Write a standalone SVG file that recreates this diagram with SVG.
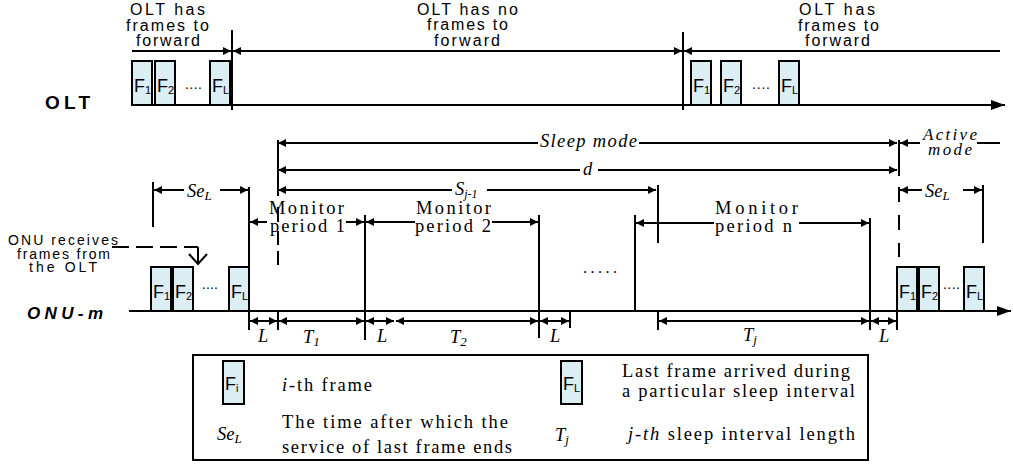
<svg xmlns="http://www.w3.org/2000/svg" width="1013" height="467" viewBox="0 0 1013 467">
<style>
.sans{font-family:"Liberation Sans",Arial,sans-serif;fill:#000}
.serif{font-family:"Liberation Serif","Times New Roman",serif;fill:#000}
.it{font-style:italic}
.ln{stroke:#000;stroke-width:2;fill:none}
.fr{fill:#dbeef4;stroke:#000;stroke-width:2}
.fl{font-family:"Liberation Sans",Arial,sans-serif;font-size:18px;fill:#000}
.fs{font-size:11px}
.top{font-size:16px}
.lab{font-size:18.5px}
</style>
<defs>
<marker id="a" viewBox="0 0 8 8" refX="8" refY="4" markerWidth="8" markerHeight="8" markerUnits="userSpaceOnUse" orient="auto-start-reverse"><path d="M0,0L8,4L0,8z" fill="#000"/></marker>
<marker id="b" viewBox="0 0 14 10" refX="14" refY="5" markerWidth="14" markerHeight="10" markerUnits="userSpaceOnUse" orient="auto"><path d="M0,0L14,5L0,10z" fill="#000"/></marker>
</defs>
<rect width="1013" height="467" fill="#fff"/>

<g id="olt-texts">
<text class="sans top" x="130" y="15" textLength="75">OLT has</text>
<text class="sans top" x="126" y="30.5" textLength="83">frames to</text>
<text class="sans top" x="136" y="46" textLength="64">forward</text>
<text class="sans top" x="417" y="14.5" textLength="101">OLT has no</text>
<text class="sans top" x="427" y="30" textLength="81">frames to</text>
<text class="sans top" x="434" y="46" textLength="66">forward</text>
<text class="sans top" x="799" y="15" textLength="76">OLT has</text>
<text class="sans top" x="798" y="30.5" textLength="81">frames to</text>
<text class="sans top" x="805" y="46" textLength="65">forward</text>
<text class="sans" x="45" y="109" font-size="19" font-weight="bold" textLength="45">OLT</text>
</g>

<g id="olt-frames">
<rect class="fr" x="132" y="61" width="20" height="44"/><text class="fl" x="134" y="92">F<tspan class="fs" dy="2">1</tspan></text>
<rect class="fr" x="155" y="61" width="20" height="44"/><text class="fl" x="157" y="92">F<tspan class="fs" dy="2">2</tspan></text>
<text class="sans" x="185" y="89" font-size="14" textLength="17">....</text>
<rect class="fr" x="210" y="61" width="20" height="44"/><text class="fl" x="212" y="92">F<tspan class="fs" dy="2">L</tspan></text>
<rect class="fr" x="691" y="61" width="20" height="44"/><text class="fl" x="693" y="92">F<tspan class="fs" dy="2">1</tspan></text>
<rect class="fr" x="721" y="61" width="20" height="44"/><text class="fl" x="723" y="92">F<tspan class="fs" dy="2">2</tspan></text>
<text class="sans" x="752" y="89" font-size="14" textLength="18">....</text>
<rect class="fr" x="779" y="61" width="20" height="44"/><text class="fl" x="781" y="92">F<tspan class="fs" dy="2">L</tspan></text>
</g>

<g id="onu-texts">
<text class="sans" x="8" y="245" font-size="14" textLength="110">ONU receives</text>
<text class="sans" x="17" y="258.5" font-size="14" textLength="93">frames from</text>
<text class="sans" x="29" y="272" font-size="14" textLength="68">the OLT</text>
<text class="sans" x="27" y="319" font-size="17" font-weight="bold" font-style="italic" textLength="76">ONU-m</text>
<text class="serif it lab" x="540" y="147" textLength="97">Sleep mode</text>
<text class="serif it" x="923" y="140" font-size="17" textLength="54">Active</text>
<text class="serif it" x="928" y="155" font-size="17" textLength="44">mode</text>
<text class="serif it lab" x="583" y="175">d</text>
<text class="serif it lab" x="455" y="195">S<tspan font-size="12" dy="3">j-1</tspan></text>
<text class="serif it lab" x="187" y="197">Se<tspan font-size="13" dy="3">L</tspan></text>
<text class="serif it lab" x="925" y="197">Se<tspan font-size="13" dy="3">L</tspan></text>
<text class="serif lab" x="269" y="214" textLength="75">Monitor</text>
<text class="serif lab" x="270" y="232" textLength="75">period 1</text>
<text class="serif lab" x="416" y="214" textLength="75">Monitor</text>
<text class="serif lab" x="415" y="232" textLength="76">period 2</text>
<text class="serif lab" x="715" y="214" textLength="83">Monitor</text>
<text class="serif lab" x="715" y="232" textLength="77">period n</text>
<text class="serif" x="583" y="273" font-size="16" textLength="34">.....</text>
<text class="serif it lab" x="258" y="342">L</text>
<text class="serif it lab" x="303" y="343">T<tspan font-size="13" dy="3">1</tspan></text>
<text class="serif it lab" x="377" y="342">L</text>
<text class="serif it lab" x="450" y="343">T<tspan font-size="13" dy="3">2</tspan></text>
<text class="serif it lab" x="550" y="342">L</text>
<text class="serif it lab" x="743" y="341">T<tspan font-size="13" dy="3">j</tspan></text>
<text class="serif it lab" x="879" y="342">L</text>
</g>

<g id="onu-frames">
<rect class="fr" x="151" y="267" width="20" height="44"/><text class="fl" x="153" y="298">F<tspan class="fs" dy="2">1</tspan></text>
<rect class="fr" x="173" y="267" width="20" height="44"/><text class="fl" x="175" y="298">F<tspan class="fs" dy="2">2</tspan></text>
<text class="sans" x="202" y="289" font-size="14" textLength="16">....</text>
<rect class="fr" x="229" y="267" width="20" height="44"/><text class="fl" x="231" y="298">F<tspan class="fs" dy="2">L</tspan></text>
<rect class="fr" x="897" y="267" width="20" height="44"/><text class="fl" x="899" y="298">F<tspan class="fs" dy="2">1</tspan></text>
<rect class="fr" x="919" y="267" width="20" height="44"/><text class="fl" x="921" y="298">F<tspan class="fs" dy="2">2</tspan></text>
<text class="sans" x="943" y="289" font-size="14" textLength="17">....</text>
<rect class="fr" x="964" y="267" width="20" height="44"/><text class="fl" x="966" y="298">F<tspan class="fs" dy="2">L</tspan></text>
</g>

<g id="connectors" class="ln">
<line x1="132" y1="51" x2="231" y2="51" marker-end="url(#a)"/>
<line x1="233" y1="51" x2="682" y2="51" marker-start="url(#a)" marker-end="url(#a)"/>
<line x1="684" y1="51" x2="1000" y2="51" marker-start="url(#a)"/>
<line x1="232" y1="30" x2="232" y2="110"/>
<line x1="683" y1="32" x2="683" y2="110"/>
<line x1="132" y1="105" x2="1005" y2="105" marker-end="url(#b)"/>

<line x1="278" y1="143" x2="538" y2="143" marker-start="url(#a)"/>
<line x1="639" y1="143" x2="897" y2="143" marker-end="url(#a)"/>
<line x1="900" y1="143" x2="920" y2="143" marker-start="url(#a)"/>
<line x1="977" y1="143" x2="1000" y2="143"/>
<line x1="278" y1="170" x2="580" y2="170" marker-start="url(#a)"/>
<line x1="598" y1="170" x2="897" y2="170" marker-end="url(#a)"/>
<line x1="278" y1="190" x2="452" y2="190" marker-start="url(#a)"/>
<line x1="487" y1="190" x2="656" y2="190" marker-end="url(#a)"/>
<line x1="154" y1="190" x2="184" y2="190" marker-start="url(#a)"/>
<line x1="220" y1="190" x2="248" y2="190" marker-end="url(#a)"/>
<line x1="900" y1="190" x2="922" y2="190" marker-start="url(#a)"/>
<line x1="963" y1="190" x2="982" y2="190" marker-end="url(#a)"/>
<line x1="153" y1="182" x2="153" y2="227"/>
<line x1="983" y1="185" x2="983" y2="243"/>
<line x1="658" y1="185" x2="658" y2="243"/>

<line x1="250" y1="222" x2="267" y2="222" marker-start="url(#a)"/>
<line x1="346" y1="222" x2="364" y2="222" marker-end="url(#a)"/>
<line x1="366" y1="222" x2="415" y2="222" marker-start="url(#a)"/>
<line x1="492" y1="222" x2="538" y2="222" marker-end="url(#a)"/>
<line x1="636" y1="223" x2="714" y2="223" marker-start="url(#a)"/>
<line x1="799" y1="223" x2="869" y2="223" marker-end="url(#a)"/>

<line x1="249" y1="187" x2="249" y2="330"/>
<line x1="365" y1="215" x2="365" y2="340"/>
<line x1="539" y1="215" x2="539" y2="338"/>
<line x1="635" y1="215" x2="635" y2="311"/>
<line x1="870" y1="218" x2="870" y2="330"/>
<line x1="278" y1="140" x2="278" y2="196"/>
<line x1="278" y1="207" x2="278" y2="222"/>
<line x1="278" y1="231" x2="278" y2="245"/>
<line x1="278" y1="251" x2="278" y2="265"/>
<line x1="899" y1="140" x2="899" y2="176"/>
<line x1="899" y1="187" x2="899" y2="202"/>
<line x1="899" y1="215" x2="899" y2="230"/>
<line x1="899" y1="243" x2="899" y2="257"/>
<line x1="278" y1="311" x2="278" y2="330"/>
<line x1="570" y1="311" x2="570" y2="328"/>
<line x1="658" y1="311" x2="658" y2="330"/>
<line x1="897" y1="311" x2="897" y2="330"/>

<line x1="129" y1="311" x2="1011" y2="311" marker-end="url(#b)"/>
<line x1="250" y1="321" x2="277" y2="321" marker-start="url(#a)" marker-end="url(#a)"/>
<line x1="279" y1="321" x2="364" y2="321" marker-start="url(#a)" marker-end="url(#a)"/>
<line x1="366" y1="321" x2="394" y2="321" marker-start="url(#a)" marker-end="url(#a)"/>
<line x1="396" y1="321" x2="538" y2="321" marker-start="url(#a)" marker-end="url(#a)"/>
<line x1="540" y1="321" x2="569" y2="321" marker-start="url(#a)" marker-end="url(#a)"/>
<line x1="659" y1="321" x2="869" y2="321" marker-start="url(#a)" marker-end="url(#a)"/>
<line x1="871" y1="321" x2="896" y2="321" marker-start="url(#a)" marker-end="url(#a)"/>

<line x1="112" y1="247" x2="198" y2="247" stroke-dasharray="17 7"/>
<line x1="198" y1="247" x2="198" y2="264"/>
<polyline points="189,254 198,264 207,254"/>
</g>

<g id="legend">
<rect x="193" y="355" width="675" height="105" fill="none" stroke="#000" stroke-width="2"/>
<rect class="fr" x="223" y="361" width="21" height="43"/><text class="fl" x="225" y="390">F<tspan class="fs" dy="2">i</tspan></text>
<text class="serif lab" x="282" y="391" textLength="90"><tspan font-style="italic">i</tspan>-th frame</text>
<text class="serif it lab" x="217" y="440">Se<tspan font-size="13" dy="3">L</tspan></text>
<text class="serif lab" x="282" y="428" textLength="226">The time after which the</text>
<text class="serif lab" x="282" y="453" textLength="230">service of last frame ends</text>
<rect class="fr" x="561" y="361" width="21" height="43"/><text class="fl" x="563" y="390">F<tspan class="fs" dy="2">L</tspan></text>
<text class="serif lab" x="622" y="377" textLength="228">Last frame arrived during</text>
<text class="serif lab" x="622" y="397" textLength="233">a particular sleep interval</text>
<text class="serif it lab" x="555" y="441">T<tspan font-size="13" dy="3">j</tspan></text>
<text class="serif lab" x="628" y="440" textLength="227"><tspan font-style="italic">j-th</tspan> sleep interval length</text>
</g>
</svg>
